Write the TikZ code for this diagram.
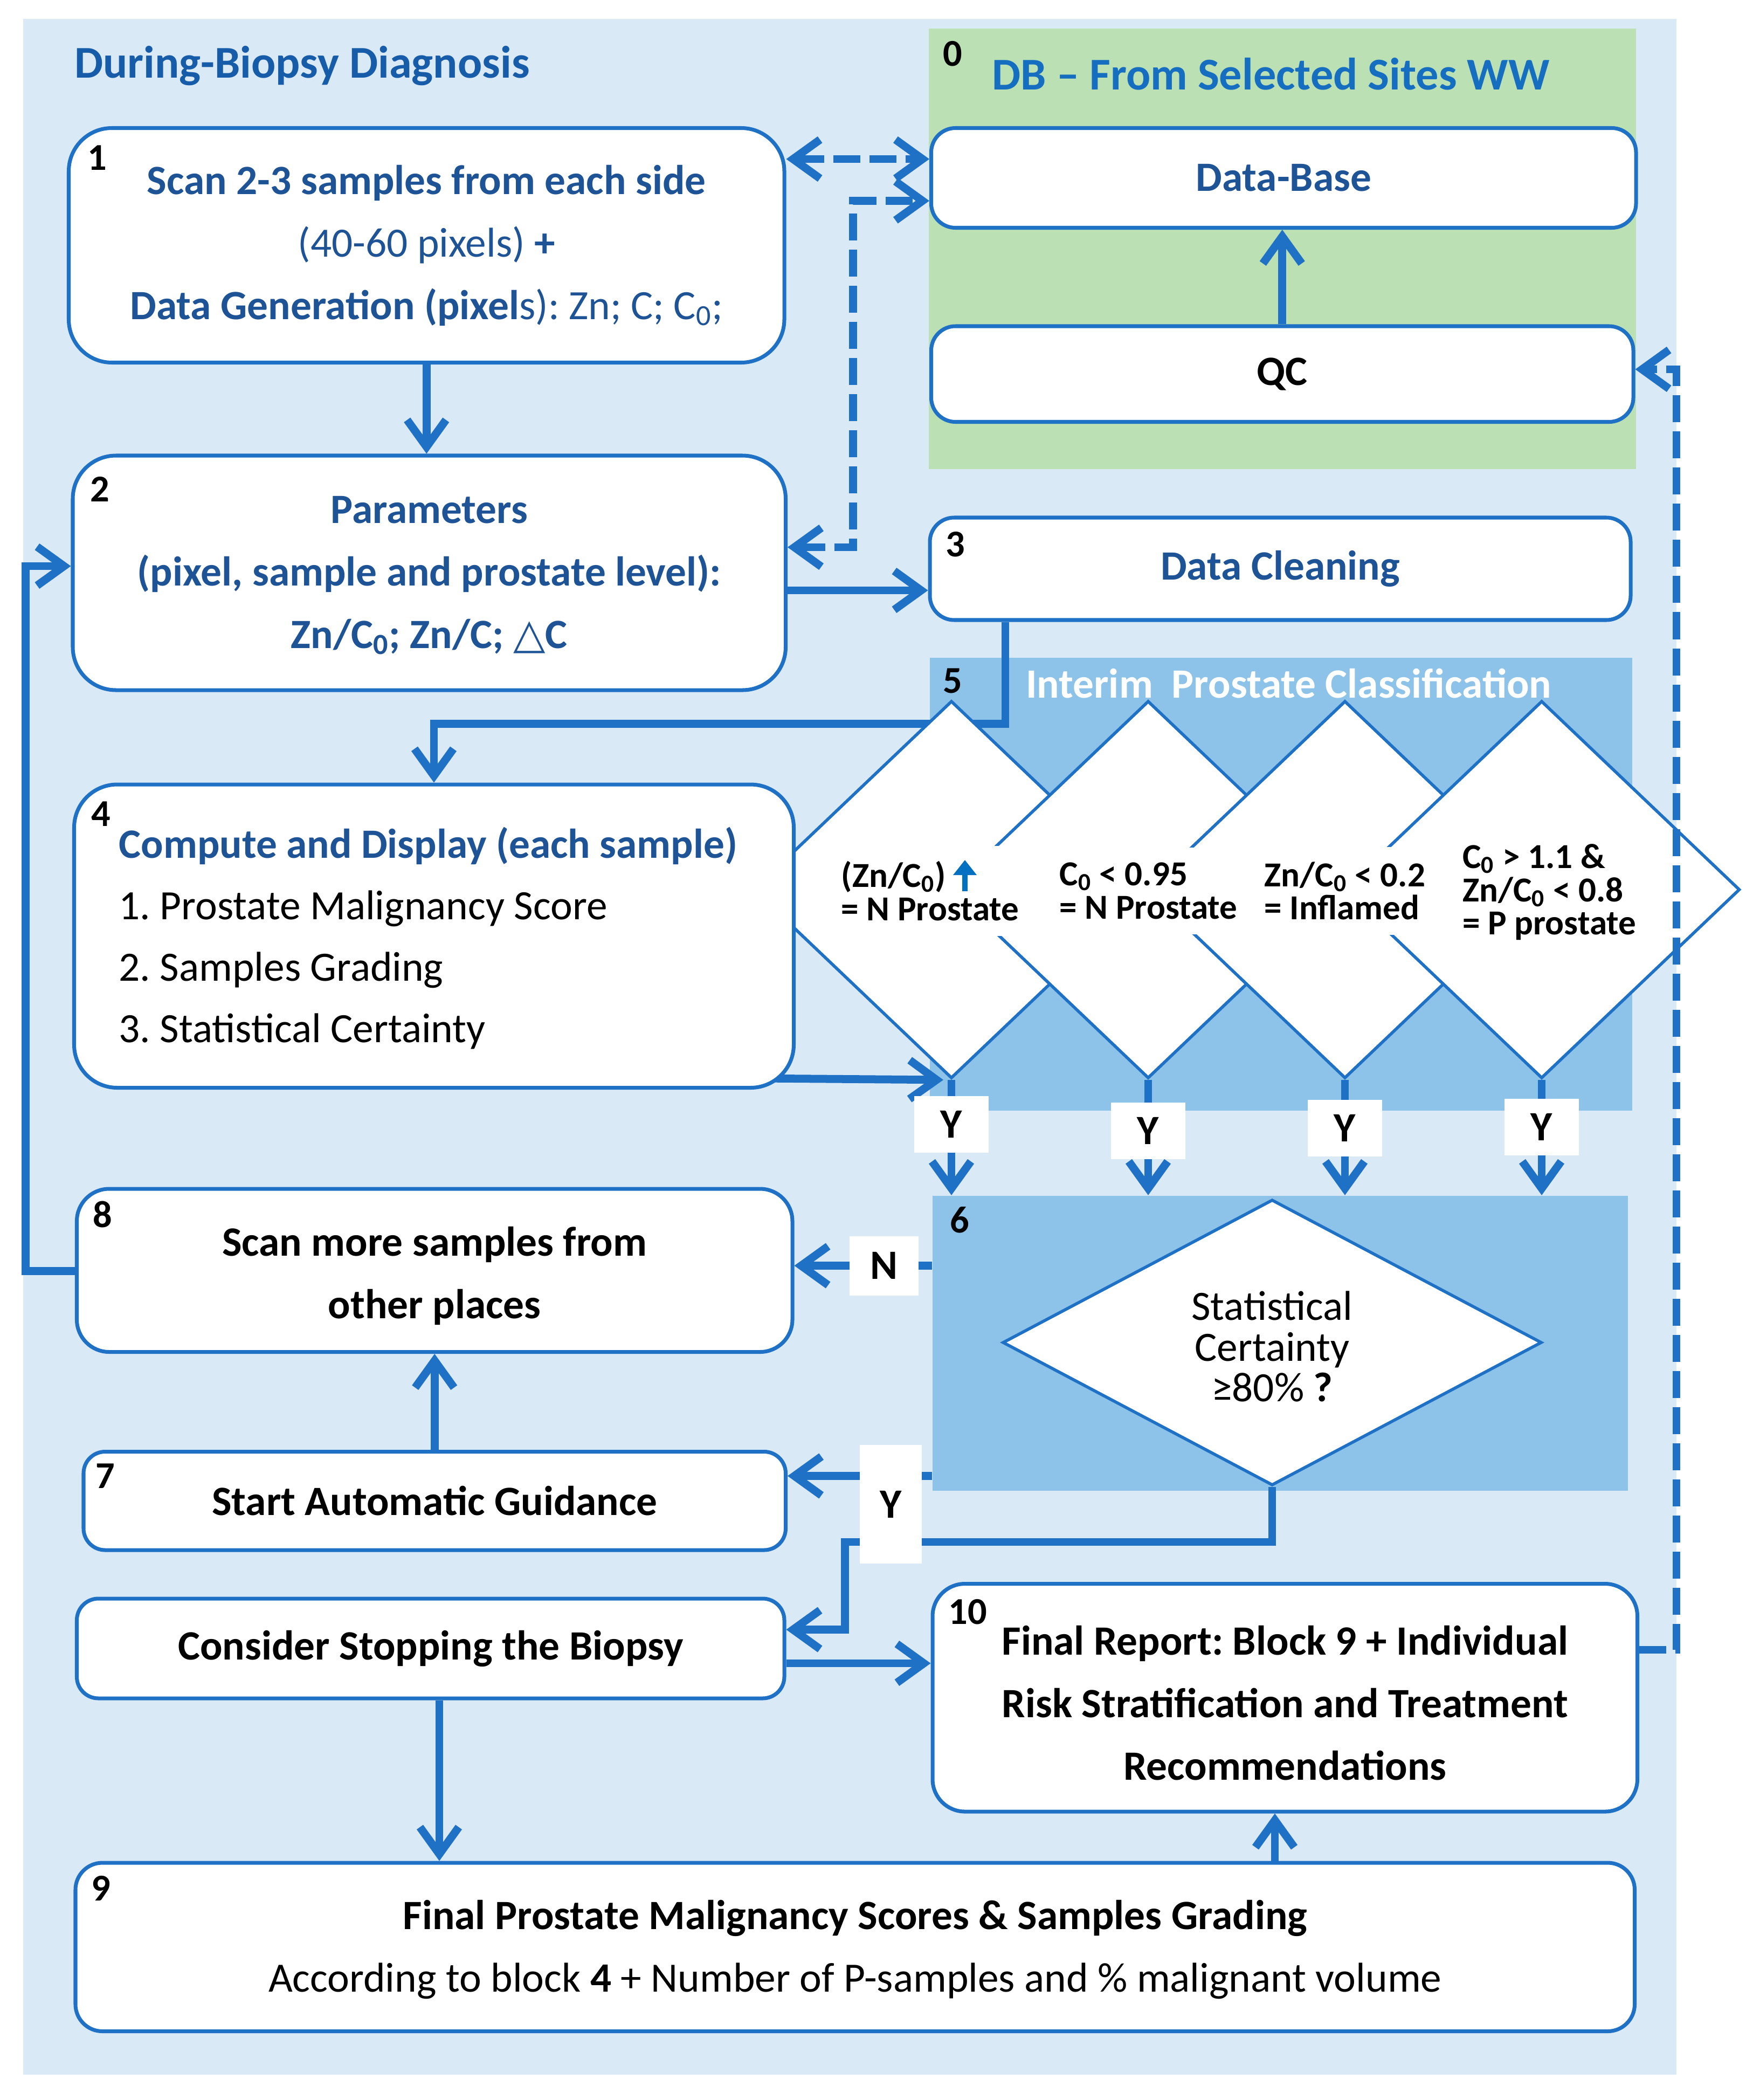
\documentclass[tikz,border=0pt]{standalone}
\usepackage{fontspec}
\setmainfont{Carlito}
\newfontfamily\djv{DejaVu Sans}
\usetikzlibrary{arrows.meta,fit,calc,shapes.geometric}
\definecolor{bgblue}{RGB}{218,233,246}
\definecolor{midblue}{RGB}{141,195,233}
\definecolor{dbgreen}{RGB}{187,224,179}
\definecolor{lineblue}{RGB}{31,113,198}
\definecolor{textblue}{RGB}{30,84,150}
\definecolor{titleblue}{RGB}{22,110,192}
\definecolor{titledark}{RGB}{22,92,168}
\definecolor{arrowup}{RGB}{0,112,192}
\pgfdeclarelayer{back}
\pgfdeclarelayer{conn}
\pgfsetlayers{back,conn,main}
\newcommand{\zs}{\textsubscript{0}}
\frenchspacing
\tikzset{
  >={Straight Barb[length=0.5cm,width=0.72cm]},
  box/.style={draw=lineblue, line width=2pt, fill=white, inner sep=0pt},
  btext/.style={inner sep=0pt, align=center, font=\fontsize{22}{33}\selectfont\bfseries},
  num/.style={font=\fontsize{20}{20}\selectfont\bfseries, text=black, inner sep=0pt},
  conn/.style={draw=lineblue, line width=4.2pt},
  dconn/.style={conn, dash pattern=on 0.5cm off 0.17cm},
  dia/.style={diamond, draw=lineblue, line width=1.6pt, fill=white, inner sep=0pt},
  dtext/.style={anchor=west, align=left, fill=white, inner xsep=0.1cm, inner ysep=0.28cm,
    font=\fontsize{18.5}{17.5}\selectfont\bfseries},
  yn/.style={fill=white, inner sep=0pt, font=\fontsize{22}{22}\selectfont\bfseries}
}
\begin{document}
\begin{tikzpicture}[x=0.025cm, y=-0.025cm]
\useasboundingbox (0,0) rectangle (1300.4,1558);
\begin{pgfonlayer}{back}
\node[fill=bgblue, inner sep=0pt, fit={(17,14) (1244,1539)}] (bg) {};
\node[fill=dbgreen, inner sep=0pt, fit={(689,21) (1214,348)}] (r0) {};
\node[fill=midblue, inner sep=0pt, fit={(690,488) (1211,824)}] (r5) {};
\node[fill=midblue, inner sep=0pt, fit={(692,887) (1208,1106)}] (r6) {};
\end{pgfonlayer}

% titles
\node[anchor=west, inner sep=0pt, font=\fontsize{24}{24}\selectfont\bfseries, text=titledark] (t1) at (55,49) {During-Biopsy Diagnosis};
\node[anchor=west, inner sep=0pt, font=\fontsize{24}{24}\selectfont\bfseries, text=titleblue] (t0) at (736,55) {DB – From Selected Sites WW};
\node[num] (n0) at (707,40) {0};
\node[anchor=west, inner sep=0pt, font=\fontsize{22}{22}\selectfont\bfseries, text=white] (t5) at (761,507) {Interim\ \ Prostate Classification};

% diamonds of block 5
\node[dia, minimum width=7.35cm, minimum height=7cm] (d1) at (706,660) {};
\node[dia, minimum width=7.35cm, minimum height=7cm] (d2) at (852,660) {};
\node[dia, minimum width=7.35cm, minimum height=7cm] (d3) at (998,660) {};
\node[dia, minimum width=7.35cm, minimum height=7cm] (d4) at (1144,660) {};
\node[dtext] (d1t) at (620,661) {(Zn/C\zs)\ \ \ \ \\= N Prostate};
\node[dtext] (d2t) at (782,661) {C\zs{} < 0.95\\= N Prostate};
\node[dtext] (d3t) at (934,661) {Zn/C\zs{} < 0.2\\= Inflamed};
\node[dtext] (d4t) at (1081,662) {C\zs{} > 1.1 \&\\Zn/C\zs{} < 0.8\\= P prostate};
\draw[draw=arrowup, line width=3pt, -{Triangle[length=0.28cm,width=0.42cm]}] (716,661) -- (716,638);

% diamond of block 6
\node[dia, minimum width=10cm, minimum height=5.3cm] (d6) at (944,996) {};
\node[align=center, inner sep=0pt, font=\fontsize{22}{21.5}\selectfont] (d6t) at (944,999) {Statistical\\Certainty\\≥80\% \textbf{?}};

% boxes
\node[box, rounded corners=0.45cm, fit={(691,95) (1214,169)}] (db) {};
\node[btext, text=textblue] (dbt) at (db.center) {Data-Base};
\node[box, rounded corners=0.45cm, fit={(691,242) (1212,313)}] (qc) {};
\node[btext] (qct) at (qc.center) {QC};
\node[box, rounded corners=0.8cm, fit={(51,95) (582,269)}] (b1) {};
\node[btext, text=textblue] (b1t) at (b1.center) {Scan 2-3 samples from each side\\{\mdseries (40-60 pixels)} +\\Data Generation (pixel{\mdseries s): Zn; C; C\zs;}};
\node[box, rounded corners=0.8cm, fit={(54,338) (583,512)}] (b2) {};
\node[btext, text=textblue] (b2t) at ($(b2.center)+(0,2)$) {Parameters\\(pixel, sample and prostate level):\\Zn/C\zs; Zn/C; {\djv\bfseries △}C};
\node[box, rounded corners=0.45cm, fit={(690,384) (1210,460)}] (b3) {};
\node[btext, text=textblue] (b3t) at (b3.center) {Data Cleaning};
\node[box, rounded corners=0.8cm, fit={(55,582) (589,807)}] (b4) {};
\node[anchor=west, align=left, inner sep=0pt, font=\fontsize{22}{32.5}\selectfont] (b4t) at (88,696) {{\bfseries\color{textblue}Compute and Display (each sample)}\\1. Prostate Malignancy Score\\2. Samples Grading\\3. Statistical Certainty};
\node[box, rounded corners=0.6cm, fit={(57,882) (588,1003)}] (b8) {};
\node[btext] (b8t) at ($(b8.center)+(0,4)$) {Scan more samples from\\other places};
\node[box, rounded corners=0.4cm, fit={(62,1077) (583,1150)}] (b7) {};
\node[btext] (b7t) at (b7.center) {Start Automatic Guidance};
\node[box, rounded corners=0.4cm, fit={(57,1186) (582,1260)}] (cons) {};
\node[btext] (const) at (cons.center) {Consider Stopping the Biopsy};
\node[box, rounded corners=0.6cm, fit={(692,1175) (1215,1344)}] (b10) {};
\node[btext] (b10t) at ($(b10.center)+(0,4)$) {Final Report: Block 9 + Individual\\Risk Stratification and Treatment\\Recommendations};
\node[box, rounded corners=0.5cm, fit={(56,1382) (1213,1507)}] (b9) {};
\node[btext] (b9t) at ($(b9.center)+(0,2)$) {Final Prostate Malignancy Scores \& Samples Grading\\{\mdseries According to block \textbf{4} + Number of P-samples and \% malignant volume}};

% block numbers
\node[num] (n1) at (72,117) {1};
\node[num] (n2) at (74,363) {2};
\node[num] (n3) at (709,404) {3};
\node[num] (n4) at (75,604) {4};
\node[num] (n5) at (707,505) {5};
\node[num] (n6) at (712,905) {6};
\node[num] (n7) at (78,1095) {7};
\node[num] (n8) at (76,901) {8};
\node[num] (n9) at (75,1401) {9};
\node[num] (n10) at (718,1196) {10};

% connectors
\begin{pgfonlayer}{conn}
\draw[conn,->] (qc.north) -- (qc.north |- db.south);
\draw[conn,->] (b1.south) -- (b1.south |- b2.north);
\draw[dconn,<->] (b1.east |- 0,118) -- (db.west |- 0,118);
\draw[dconn,<->] (b2.east |- 0,406) -- (633,406) -- (633,149) -- (db.west |- 0,149);
\draw[conn,->] (b2.east |- 0,438) -- (b3.west |- 0,438);
\draw[conn,->] (b3.south -| 746,0) -- (746,537) -- (322,537) -- (b4.north -| 322,0);
\draw[conn,->] ($(b4.south east |- 0,800)+(-30,0)$) -- ($(d1.south)+(-6,0)$);
\foreach \d in {d1,d2,d3,d4} \draw[conn,->] (\d.south) -- (\d.south |- r6.north);
\draw[conn,->] (r6.west |- 0,939) -- (b8.east |- 0,939);
\draw[conn,->] (r6.west |- 0,1095) -- (b7.east |- 0,1095);
\draw[conn,->] (d6.south) -- (944,1144) -- (627,1144) -- (627,1209) -- (cons.east |- 0,1209);
\draw[conn,->] (b8.west |- 0,943) -- (19,943) -- (19,420) -- (b2.west |- 0,420);
\draw[conn,->] (b7.north) -- (b7.north |- b8.south);
\draw[conn,->] (cons.east |- 0,1234) -- (b10.west |- 0,1234);
\draw[conn,->] (cons.south -| 326,0) -- (b9.north -| 326,0);
\draw[conn,->] (b9.north -| 946,0) -- (b10.south -| 946,0);
\end{pgfonlayer}
\draw[dconn,->] (b10.east |- 0,1224) -- (1244,1224) -- (1244,274) -- (qc.east |- 0,274);

% Y / N labels
\node[yn, minimum width=1.375cm, minimum height=1.05cm] (y1) at (d1.south |- 0,834) {Y};
\node[yn, minimum width=1.375cm, minimum height=1.05cm] (y2) at (d2.south |- 0,839) {Y};
\node[yn, minimum width=1.375cm, minimum height=1.05cm] (y3) at (d3.south |- 0,837) {Y};
\node[yn, minimum width=1.375cm, minimum height=1.05cm] (y4) at (d4.south |- 0,836) {Y};
\node[yn, minimum width=1.275cm, minimum height=1.1cm] (nn) at (656,939) {N};
\node[yn, minimum width=1.15cm, minimum height=2.2cm] (y6) at (661,1116) {Y};
\end{tikzpicture}
\end{document}
